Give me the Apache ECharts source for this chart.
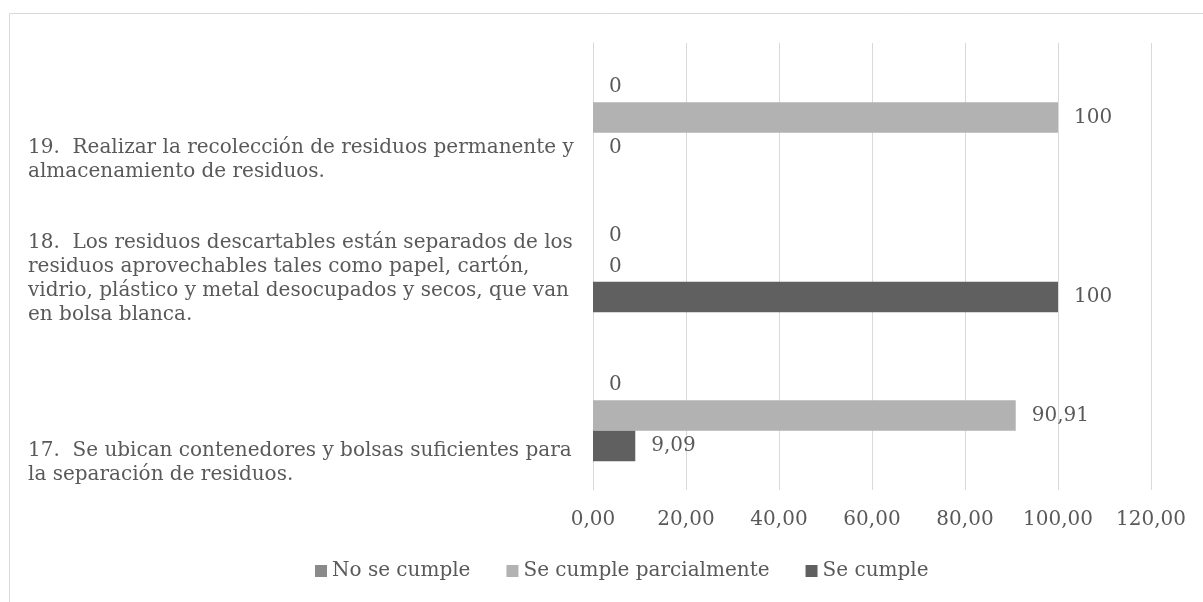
<!DOCTYPE html>
<html>
<head>
<meta charset="utf-8">
<script src="https://cdn.jsdelivr.net/npm/echarts@6/dist/echarts.min.js"></script>
<style>
  html, body { margin: 0; padding: 0; background: #fff; }
  #chart { width: 1203px; height: 602px; }
</style>
</head>
<body>
<div id="chart"></div>
<script>
// categories, bottom to top
const categories = [
    '17.  Se ubican contenedores y bolsas suficientes para\nla separación de residuos.',
    '18.  Los residuos descartables están separados de los\nresiduos aprovechables tales como papel, cartón,\nvidrio, plástico y metal desocupados y secos, que van\nen bolsa blanca.',
    '19.  Realizar la recolección de residuos permanente y\nalmacenamiento de residuos.',
]
const noSeCumple = [0, 0, 0]
const parcialmente = [90.91, 0, 100]
const seCumple = [9.09, 100, 0]
const xTicks = {min: 0, max: 120, interval: 20}

const textColor = '#595959'
const font = 'DejaVu Serif'
const fontSize = 20

const comma = (v) => String(v).replace('.', ',')

const barLabel = {
    show: true,
    position: 'right',
    distance: 16,
    color: textColor,
    fontFamily: font,
    fontSize,
    formatter: (p) => comma(p.value),
}

// first series is drawn at the top of each group
const makeSeries = (name, data, color) => ({
    name,
    type: 'bar',
    data,
    barWidth: 30.5,
    barGap: '0%',
    itemStyle: {color},
    label: barLabel,
})

const chart = echarts.init(document.getElementById('chart'))
chart.setOption({
    animation: false,
    graphic: [
        {
            type: 'rect',
            shape: {x: 9.5, y: 13.5, width: 1300, height: 700},
            style: {fill: 'none', stroke: '#d9d9d9', lineWidth: 1},
            silent: true,
        },
    ],
    grid: {
        left: 593,
        right: 52,
        top: 43,
        bottom: 112,
        outerBoundsMode: 'none',
    },
    legend: {
        top: 556,
        left: 310,
        icon: 'rect',
        itemWidth: 12,
        itemHeight: 12,
        itemGap: 36,
        textStyle: {color: textColor, fontFamily: font, fontSize},
    },
    xAxis: {
        type: 'value',
        min: xTicks.min,
        max: xTicks.max,
        interval: xTicks.interval,
        axisLine: {show: false},
        axisTick: {show: false},
        axisLabel: {
            color: textColor,
            fontFamily: font,
            fontSize,
            margin: 20,
            formatter: (v) => v.toFixed(2).replace('.', ','),
        },
        splitLine: {lineStyle: {color: '#d9d9d9', width: 1}},
    },
    yAxis: {
        type: 'category',
        data: categories,
        axisLine: {lineStyle: {color: '#d9d9d9'}},
        axisTick: {show: false},
        axisLabel: {
            align: 'left',
            margin: 565,
            color: textColor,
            fontFamily: font,
            fontSize,
            lineHeight: 24,
            formatter: (v, i) => `{g${i}| }\n` + v.split('\n').map((l) => `{t|${l}}`).join('\n'),
            rich: {
                t: {color: textColor, fontFamily: font, fontSize, lineHeight: 24},
                g0: {fontSize: 1, lineHeight: 94},
                g1: {fontSize: 1, lineHeight: 24},
                g2: {fontSize: 1, lineHeight: 84},
            },
        },
    },
    series: [
        makeSeries('No se cumple', noSeCumple, '#8a8a8a'),
        makeSeries('Se cumple parcialmente', parcialmente, '#b2b2b2'),
        makeSeries('Se cumple', seCumple, '#606060'),
    ],
})
</script>
</body>
</html>
